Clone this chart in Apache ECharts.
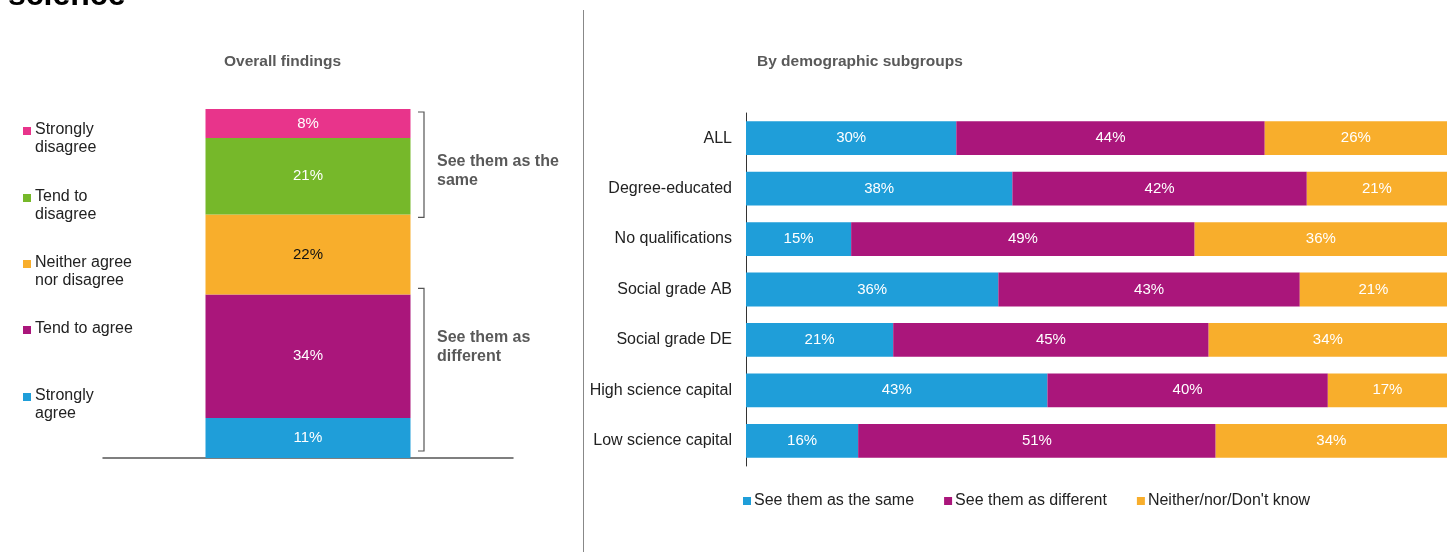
<!DOCTYPE html>
<html>
<head>
<meta charset="utf-8">
<script src="https://cdn.jsdelivr.net/npm/echarts@6/dist/echarts.min.js"></script>
<style>
  html, body { margin: 0; padding: 0; background: #fff; }
  #main { width: 1447px; height: 552px; }
</style>
</head>
<body>
<div id="main"></div>
<script>
// overall findings (stacked bottom -> top)
var overallNames = ['Strongly agree', 'Tend to agree', 'Neither agree nor disagree', 'Tend to disagree', 'Strongly disagree'];
var overallValues = [11, 34, 22, 21, 8];
var overallColors = ['#1F9ED9', '#AA167B', '#F8AE2C', '#76B82A', '#E8348B'];
var legendLines = [
  ['Strongly', 'disagree'],
  ['Tend to', 'disagree'],
  ['Neither agree', 'nor disagree'],
  ['Tend to agree'],
  ['Strongly', 'agree']
];
var legendColors = ['#E8348B', '#76B82A', '#F8AE2C', '#AA167B', '#1F9ED9'];

// demographic subgroups
var groups = ['ALL', 'Degree-educated', 'No qualifications', 'Social grade AB', 'Social grade DE', 'High science capital', 'Low science capital'];
var sameValues = [30, 38, 15, 36, 21, 43, 16];
var differentValues = [44, 42, 49, 43, 45, 40, 51];
var neitherValues = [26, 21, 36, 21, 34, 17, 34];
var groupSeriesNames = ['See them as the same', 'See them as different', "Neither/nor/Don't know"];

var FONT = 'Liberation Sans, Arial, sans-serif';

var chart = echarts.init(document.getElementById('main'));

var series = [];
overallValues.forEach(function (v, i) {
  series.push({
    name: overallNames[i],
    type: 'bar',
    stack: 'overall',
    xAxisIndex: 0,
    yAxisIndex: 0,
    barWidth: 205,
    data: [v],
    itemStyle: { color: overallColors[i] },
    label: {
      show: true,
      position: 'inside',
      formatter: '{c}%',
      color: i === 2 ? '#111' : '#fff',
      fontSize: 15,
      fontFamily: FONT
    }
  });
});

[sameValues, differentValues, neitherValues].forEach(function (arr, i) {
  series.push({
    name: groupSeriesNames[i],
    type: 'bar',
    stack: 'groups',
    xAxisIndex: 1,
    yAxisIndex: 1,
    barCategoryGap: '33%',
    data: arr,
    itemStyle: { color: ['#1F9ED9', '#AA167B', '#F8AE2C'][i] },
    label: {
      show: true,
      position: 'inside',
      formatter: '{c}%',
      color: '#fff',
      fontSize: 15,
      fontFamily: FONT
    }
  });
});

chart.setOption({
  animation: false,
  textStyle: { fontFamily: FONT },
  grid: [
    { left: 103, width: 410, top: 109, bottom: 94 },
    { left: 746, right: -3, top: 113, bottom: 86 }
  ],
  xAxis: [
    {
      gridIndex: 0, type: 'category', data: ['Overall'],
      axisLine: { lineStyle: { color: '#555', width: 1.5 } },
      axisTick: { show: false }, axisLabel: { show: false }
    },
    {
      gridIndex: 1, type: 'value', min: 0, max: 100, show: false
    }
  ],
  yAxis: [
    {
      gridIndex: 0, type: 'value', min: 0, max: 96, show: false
    },
    {
      gridIndex: 1, type: 'category', inverse: true, data: groups,
      axisLine: { lineStyle: { color: '#333', width: 1 } },
      axisTick: { show: false },
      axisLabel: { color: '#222', fontSize: 16, margin: 14, fontFamily: FONT }
    }
  ],
  legend: {
    data: groupSeriesNames,
    left: 738,
    top: 488,
    itemWidth: 8,
    itemHeight: 8,
    itemGap: 30,
    icon: 'rect',
    textStyle: { color: '#222', fontSize: 16, padding: [0, 0, 0, -2] }
  },
  title: [
    {
      text: 'Overall findings', left: 219, top: 49,
      textStyle: { color: '#595959', fontSize: 15.5, fontWeight: 'bold', fontFamily: FONT }
    },
    {
      text: 'By demographic subgroups', left: 752, top: 49,
      textStyle: { color: '#595959', fontSize: 15.5, fontWeight: 'bold', fontFamily: FONT }
    }
  ],
  series: series
});

// extras: cut-off page heading, divider, left legend and brackets
var g = [];
g.push({
  type: 'text', left: 8, top: -20,
  style: { text: 'science', font: 'bold 32px ' + FONT, fill: '#000' }
});
g.push({
  type: 'line',
  shape: { x1: 583.5, y1: 10, x2: 583.5, y2: 552 },
  style: { stroke: '#888', lineWidth: 1 }
});

var legendTops = [121, 188, 254, 320, 387];
legendLines.forEach(function (lines, i) {
  g.push({
    type: 'rect',
    shape: { x: 23, y: legendTops[i] + 6, width: 8, height: 8 },
    style: { fill: legendColors[i] }
  });
  g.push({
    type: 'text', left: 35, top: legendTops[i],
    style: { text: lines.join('\n'), font: '16px ' + FONT, fill: '#222', lineHeight: 18 }
  });
});

function py(v) {
  return chart.convertToPixel({ gridIndex: 0 }, [0, v])[1];
}
var cum = [];
overallValues.reduce(function (s, v) { cum.push(s + v); return s + v; }, 0);
var brackets = [
  { from: cum[2], to: cum[4], text: 'See them as the\nsame', dTop: 3, dBot: 3 },
  { from: 0, to: cum[1], text: 'See them as\ndifferent', dTop: -6, dBot: -7 }
];
brackets.forEach(function (b) {
  var yTop = py(b.to) + b.dTop;
  var yBot = py(b.from) + b.dBot;
  g.push({
    type: 'polyline',
    shape: { points: [[418, yTop], [424, yTop], [424, yBot], [418, yBot]] },
    style: { stroke: '#555', lineWidth: 1.2, fill: null }
  });
  g.push({
    type: 'text', left: 437, top: yTop + 40,
    style: { text: b.text, font: 'bold 16px ' + FONT, fill: '#595959', lineHeight: 19 }
  });
});

chart.setOption({ graphic: g });
</script>
</body>
</html>
